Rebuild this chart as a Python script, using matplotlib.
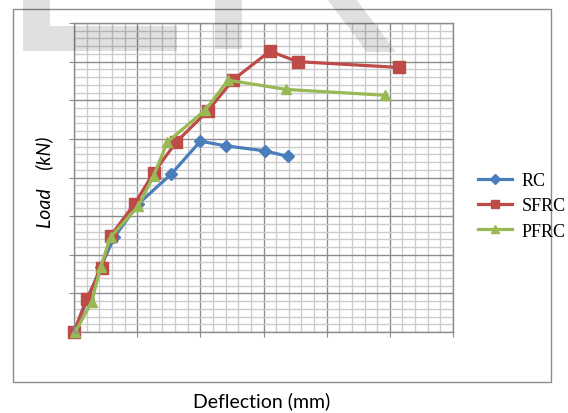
import matplotlib
matplotlib.use('Agg')
import matplotlib.pyplot as plt
from matplotlib.patches import Polygon, Rectangle
from matplotlib.ticker import MultipleLocator, NullFormatter

# deflection (mm) / load (kN)
rc_x = [0, 1.1, 2.1, 3.2, 5.1, 7.7, 10.0, 12.0, 15.1, 16.9]
rc_y = [0, 8.6, 16.8, 24.6, 33.2, 40.9, 49.4, 48.2, 46.9, 45.5]

sfrc_x = [0, 1.0, 2.2, 2.9, 4.8, 6.3, 8.1, 10.6, 12.6, 15.5, 17.7, 25.7]
sfrc_y = [0, 8.6, 16.6, 24.9, 33.2, 41.2, 49.2, 57.3, 65.3, 72.7, 70.0, 68.5]

pfrc_x = [0.1, 1.4, 2.1, 2.9, 5.1, 6.3, 7.4, 10.4, 12.2, 16.8, 24.6]
pfrc_y = [0, 7.8, 16.8, 24.6, 32.6, 40.5, 49.2, 57.5, 65.2, 62.8, 61.3]

labels = ['RC', 'SFRC', 'PFRC']
colors = ['#4a7ebb', '#be4b48', '#98b954']

W, H = 568, 414
fig = plt.figure(figsize=(W / 100, H / 100), dpi=100)

def px(x, y):
    return (x / W, 1 - y / H)

# outer chart frame
fig.patches.append(Rectangle(px(12.5, 383), 538.5 / W, 373.5 / H, transform=fig.transFigure,
                             fill=False, edgecolor='#8c8c8c', lw=1, zorder=-1))

ax = fig.add_axes([74 / W, 1 - 333 / H, 379 / W, 309 / H])
ax.set_xlim(0, 30)
ax.set_ylim(0, 80)
ax.xaxis.set_major_locator(MultipleLocator(5))
ax.xaxis.set_minor_locator(MultipleLocator(1))
ax.yaxis.set_major_locator(MultipleLocator(10))
ax.yaxis.set_minor_locator(MultipleLocator(2))
ax.xaxis.set_major_formatter(NullFormatter())
ax.yaxis.set_major_formatter(NullFormatter())
ax.grid(which='minor', color='#cccccc', lw=1)
ax.grid(which='major', color='#8c8c8c', lw=1)
ax.set_axisbelow(True)
ax.tick_params(which='major', length=3.5, color='#8c8c8c', direction='out')
ax.tick_params(which='minor', length=0)
for s in ax.spines.values():
    s.set_color('#8c8c8c')
    s.set_linewidth(1)

series = [(rc_x, rc_y, 'D', 6.5), (sfrc_x, sfrc_y, 's', 8.5), (pfrc_x, pfrc_y, '^', 7.5)]
for (x, y, m, ms), lab, c in zip(series, labels, colors):
    ax.plot(x, y, color=c, lw=2.3, marker=m, ms=ms, label=lab, clip_on=False)

leg = fig.legend(loc='center left', bbox_to_anchor=(478 / W, 1 - 207 / H), frameon=False,
                 prop={'family': 'Liberation Serif', 'size': 13}, handlelength=1.9,
                 handletextpad=0.5, labelspacing=0.45, borderpad=0, borderaxespad=0,
                 markerscale=0.75)

fig.text(262 / W, 1 - 401 / H, 'Deflection (mm)', ha='center', va='center',
         family='Lato', fontsize=14)
fig.text(44 / W, 1 - 182 / H, 'Load    (kN)', ha='center', va='center', rotation=90,
         family='Lato', style='italic', fontsize=14)

# faint watermark shapes at the top
marks = [
    [(23, 0), (50, 0), (50, 27), (177, 27), (177, 52), (23, 52)],
    [(215, 0), (242, 0), (242, 50), (215, 50)],
    [(327, 0), (356, 0), (396, 53), (367, 53)],
]
for pts in marks:
    fig.patches.append(Polygon([px(a, b) for a, b in pts], closed=True, transform=fig.transFigure,
                               facecolor='black', alpha=0.12, edgecolor='none', zorder=5))

fig.savefig('out.png', dpi=100)
